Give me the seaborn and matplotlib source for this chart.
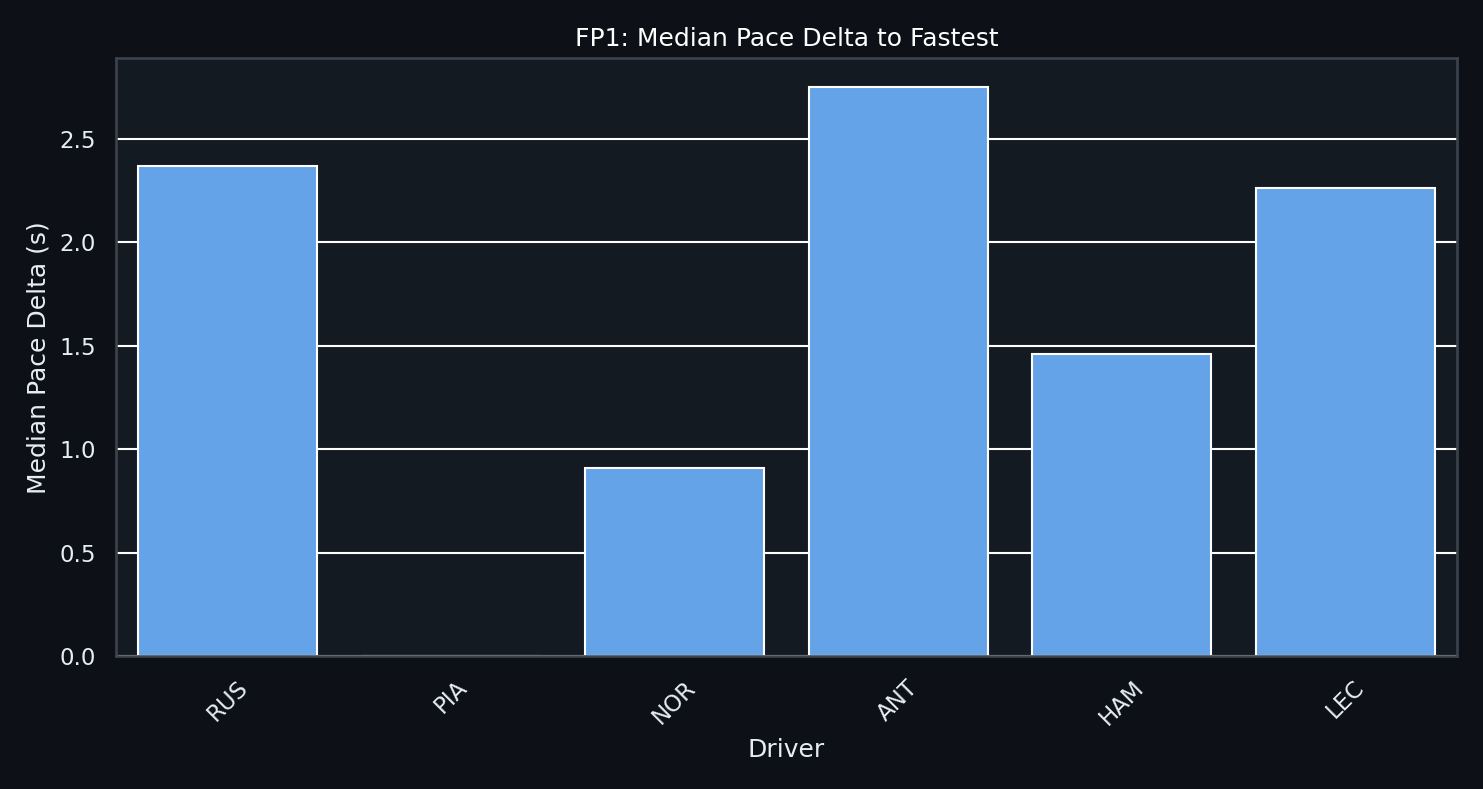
import matplotlib
matplotlib.use("Agg")
import matplotlib.pyplot as plt
import seaborn as sns
import pandas as pd

drivers = ["RUS", "PIA", "NOR", "ANT", "HAM", "LEC"]
pace_delta = [2.37, 0.0, 0.91, 2.75, 1.46, 2.26]

sns.set_theme(style="darkgrid", rc={
    "figure.facecolor": "#0d1117",
    "axes.facecolor": "#131a22",
    "axes.edgecolor": "#3d444d",
    "grid.color": "white",
    "text.color": "white",
    "axes.labelcolor": "#e6edf3",
    "xtick.color": "#e6edf3",
    "ytick.color": "#e6edf3",
})
plt.rcParams["font.family"] = ["DejaVu Sans"]

df = pd.DataFrame({"Driver": drivers, "Delta": pace_delta})

fig, ax = plt.subplots(figsize=(9.893, 5.26), dpi=150)
sns.barplot(data=df, x="Driver", y="Delta", color="#64a3e8", saturation=1,
            edgecolor="white", linewidth=1, ax=ax)
ax.grid(axis="x", visible=False)
ax.set_axisbelow(True)
for s in ax.spines.values():
    s.set_visible(True)
    s.set_color("#3d444d")
ax.set_title("FP1: Median Pace Delta to Fastest", color="white")
ax.set_xlabel("Driver")
ax.set_ylabel("Median Pace Delta (s)")
plt.xticks(rotation=45)
plt.tight_layout()
plt.savefig("out.png", facecolor=fig.get_facecolor())
